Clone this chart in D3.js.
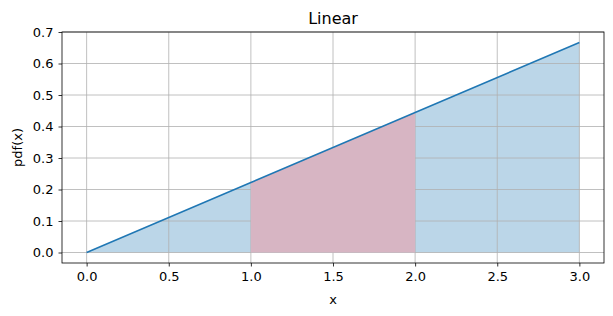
<!DOCTYPE html>
<html>
<head>
<meta charset="utf-8">
<script src="https://cdn.jsdelivr.net/npm/d3@7"></script>
<style>
  body { margin: 0; background: #fff; }
  text { font-family: "DejaVu Sans", sans-serif; fill: #000; }
</style>
</head>
<body>
<div id="chart"></div>
<script>
// pdf of a linear distribution on [0, 3]
const xs = [0, 1, 2, 3]
const pdf = [0, 0.2222, 0.4444, 0.6667]
const band = [1, 2]   // highlighted interval
const xTicks = [0, 0.5, 1, 1.5, 2, 2.5, 3]
const yTicks = [0, 0.1, 0.2, 0.3, 0.4, 0.5, 0.6, 0.7]

const W = 613, H = 316
const margin = {top: 32, right: 9, bottom: 53, left: 62}
const width = W - margin.left - margin.right
const height = H - margin.top - margin.bottom

const svg = d3.select("#chart").append("svg")
    .attr("width", W).attr("height", H)
const g = svg.append("g")
    .attr("transform", "translate(" + margin.left + "," + margin.top + ")")

const x = d3.scaleLinear().domain([-0.15, 3.15]).range([0, width])
const y = d3.scaleLinear().domain([-0.03333, 0.7]).range([height, 0])

const data = xs.map((d, i) => ({x: d, y: pdf[i]}))
const area = d3.area().x(d => x(d.x)).y0(y(0)).y1(d => y(d.y))

// whole area, light blue
g.append("path").datum(data)
    .attr("d", area)
    .attr("fill", "#1f77b4").attr("fill-opacity", 0.3)

// grid sits on top of the blue fill
g.append("g").selectAll("line").data(xTicks).enter().append("line")
    .attr("x1", d => x(d)).attr("x2", d => x(d))
    .attr("y1", 0).attr("y2", height)
    .attr("stroke", "#b0b0b0").attr("stroke-width", 0.8)
g.append("g").selectAll("line").data(yTicks).enter().append("line")
    .attr("x1", 0).attr("x2", width)
    .attr("y1", d => y(d)).attr("y2", d => y(d))
    .attr("stroke", "#b0b0b0").attr("stroke-width", 0.8)

// highlighted band covers the grid
const inBand = data.filter(d => d.x >= band[0] && d.x <= band[1])
g.append("path").datum(inBand)
    .attr("d", area)
    .attr("fill", "#d7b5c3")

g.append("path").datum(data)
    .attr("fill", "none")
    .attr("stroke", "#1f77b4")
    .attr("stroke-width", 1.5)
    .attr("d", d3.line().x(d => x(d.x)).y(d => y(d.y)))

// axes
const xAxis = g.append("g")
    .attr("transform", "translate(0," + height + ")")
    .call(d3.axisBottom(x).tickValues(xTicks).tickFormat(d3.format(".1f")).tickSize(3.5).tickPadding(5))
const yAxis = g.append("g")
    .call(d3.axisLeft(y).tickValues(yTicks).tickFormat(d3.format(".1f")).tickSize(3.5).tickPadding(5))
;[xAxis, yAxis].forEach(a => {
    a.select(".domain").remove()
    a.selectAll("text").style("font-size", "13px").style("font-family", "DejaVu Sans")
    a.selectAll("line").attr("stroke", "#000").attr("stroke-width", 0.8)
})

g.append("rect")
    .attr("width", width).attr("height", height)
    .attr("fill", "none").attr("stroke", "#000").attr("stroke-width", 0.8)

// labels
svg.append("text")
    .attr("x", margin.left + width / 2).attr("y", 24)
    .attr("text-anchor", "middle").style("font-size", "16px")
    .text("Linear")
svg.append("text")
    .attr("x", margin.left + width / 2).attr("y", 304)
    .attr("text-anchor", "middle").style("font-size", "13px")
    .text("x")
svg.append("text")
    .attr("transform", "translate(22," + (margin.top + height / 2) + ") rotate(-90)")
    .attr("text-anchor", "middle").style("font-size", "13px")
    .text("pdf(x)")
</script>
</body>
</html>
